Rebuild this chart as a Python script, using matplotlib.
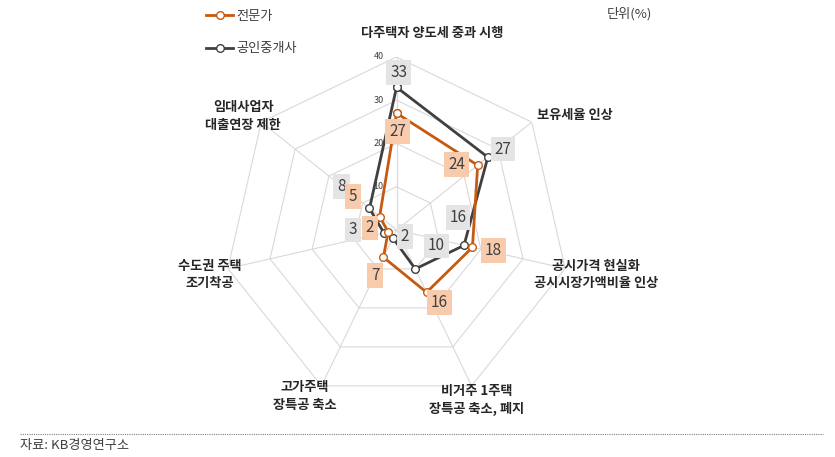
import numpy as np
import matplotlib.pyplot as plt
from matplotlib.lines import Line2D

plt.rcParams['font.family'] = ['Noto Sans CJK KR', 'DejaVu Sans']

# data (단위: %)
categories = ['다주택자 양도세 중과 시행', '보유세율 인상',
              '공시가격 현실화\n공시시장가액비율 인상', '비거주 1주택\n장특공 축소, 폐지',
              '고가주택\n장특공 축소', '수도권 주택\n조기착공', '임대사업자\n대출연장 제한']
expert = [27, 24, 18, 16, 7, 2, 5]
broker = [33, 27, 16, 10, 2, 3, 8]
series_names = ['전문가', '공인중개사']
rings = [10, 20, 30, 40]

# label offsets in pixels (layout only)
cat_off = [(36, 24), (43, 7), (31, -6), (5, -14), (-17, -10), (-18, -6), (-18, 6)]
broker_off = [(2, 15), (15, 8), (-6, 28), (21, 23), (12, 1), (-31, 3), (-28, 22)]
expert_off = [(1, -18), (-21, 1), (21, -3), (13, -10), (-8, -18), (-18, 4), (-27, 20)]

orange = '#c55a11'
dark = '#404040'
grid_c = '#d9d9d9'

fig = plt.figure(figsize=(8.35, 4.57), dpi=100)
ax = fig.add_axes([0.2677, 0.1182, 0.4144, 0.7571], projection='polar')
ax.set_theta_zero_location('N')
ax.set_theta_direction(-1)
ax.set_ylim(0, 40)
ax.axis('off')

n = len(categories)
ang = np.linspace(0, 2 * np.pi, n, endpoint=False)
ang_c = np.append(ang, ang[0])

for r in rings:
    ax.plot(ang_c, [r] * (n + 1), color=grid_c, lw=0.8, zorder=1)
for a in ang:
    ax.plot([a, a], [0, rings[-1]], color=grid_c, lw=0.8, zorder=1)
for r in rings:
    ax.annotate(str(r), xy=(0, r), xytext=(-18, 0), textcoords='offset pixels',
                ha='center', va='center', fontsize=6.5, color=dark)

for a, lab, off in zip(ang, categories, cat_off):
    ax.annotate(lab, xy=(a, rings[-1]), xytext=off, textcoords='offset pixels',
                ha='center', va='center', fontsize=9.5, fontweight='bold',
                color='#262626', linespacing=1.3, annotation_clip=False)

ax.plot(ang_c, broker + broker[:1], color=dark, lw=2, marker='o', ms=5.5,
        mfc='white', mec=dark, mew=1, zorder=3)
ax.plot(ang_c, expert + expert[:1], color=orange, lw=2, marker='o', ms=5.5,
        mfc='white', mec=orange, mew=1, zorder=4)

for vals, offs, fc in [(broker, broker_off, '#e4e4e4'), (expert, expert_off, '#f8cbad')]:
    for a, v, off in zip(ang, vals, offs):
        ax.annotate(str(v), xy=(a, v), xytext=off, textcoords='offset pixels',
                    ha='center', va='center', fontsize=11, color=dark, zorder=5,
                    bbox=dict(boxstyle='square,pad=0.25', fc=fc, ec='none'))

handles = [Line2D([], [], color=orange, lw=2, marker='o', ms=5.5, mfc='white', mec=orange),
           Line2D([], [], color=dark, lw=2, marker='o', ms=5.5, mfc='white', mec=dark)]
fig.legend(handles, series_names, loc='upper left', bbox_to_anchor=(0.233, 1.005),
           frameon=False, fontsize=9.5, handlelength=2.0, handletextpad=0.3,
           labelspacing=1.5, labelcolor=dark)

fig.text(629 / 835, 1 - 14 / 457, '단위(%)', ha='center', va='center', fontsize=9.5, color=dark)
fig.add_artist(Line2D([20 / 835, 823 / 835], [1 - 434 / 457] * 2, color='#808080',
                      lw=0.8, ls=(0, (1, 1))))
fig.text(20 / 835, 1 - 446 / 457, '자료: KB경영연구소', ha='left', va='center', fontsize=9.5, color=dark)

fig.savefig('out.png', dpi=100)
